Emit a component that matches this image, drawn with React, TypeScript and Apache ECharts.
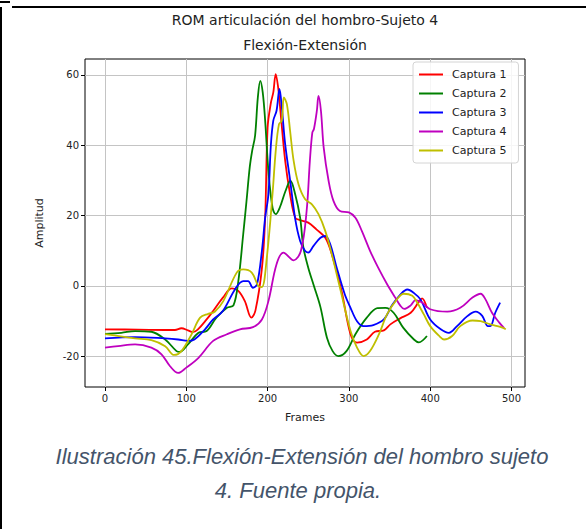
import React, { useEffect, useRef } from "react";
import * as echarts from "echarts";

const seriesNames = ["Captura 1", "Captura 2", "Captura 3", "Captura 4", "Captura 5"];
const seriesColors = ["#ff0000", "#008000", "#0000ff", "#bf00bf", "#bfbf00"];

const captura1: number[][] = [
  [0, -12.3], [40, -12.4], [86, -12.5], [94, -12], [102, -12.6], [108, -13.1], [114, -12.4],
  [125, -9.5], [133, -7.1], [145, -3.3], [156, -0.7], [164, -1.4], [172, -4.3], [180, -9],
  [185, -7], [193, 5], [197, 19.4], [200, 45], [204, 52], [207, 55], [210, 60.2], [213, 56.4],
  [215, 51.7], [221.6, 35.6], [227.7, 26], [234, 19.4], [240, 18.7], [250, 18], [260, 16.1],
  [271, 13.7], [279, 9], [291, -1.4], [302, -13.7], [310, -16.1], [322, -15.2], [332, -13],
  [343, -12.6], [351, -10.9], [363, -9.2], [376, -7.6], [386, -4.5], [390, -3.5], [396, -6.2],
];

const captura2: number[][] = [
  [0, -13.6], [20, -13.3], [37, -12.8], [57, -13], [74, -15.2], [88, -18.5], [92, -18.7],
  [102, -16.6], [115, -13.3], [125, -12.8], [137, -9], [150, -6.2], [158, -5.5], [164, 1.4],
  [170, 14.7], [174, 24], [178, 33.7], [181, 38.4], [184.6, 42.7], [188, 53.6], [191, 58.3],
  [194, 55], [197, 47], [201, 32.7], [206, 22.3], [210, 20.4], [215, 22.3], [222, 27],
  [228, 29.9], [234, 26], [240, 19.4], [244, 11], [250, 5.2], [257, 0], [265, -6],
  [273, -14.7], [280, -18.5], [287, -19.9], [297, -18.5], [308, -13.7], [322, -9],
  [335, -6.3], [345, -6.2], [355, -7.6], [367, -11.9], [380, -15.2], [386, -16], [396, -14.2],
];

const captura3: number[][] = [
  [0, -14.9], [37, -14.5], [74, -14.9], [90, -15.2], [102, -15.6], [110, -15.2], [123, -12.3],
  [133, -9.5], [145, -7.1], [160, -0.9], [170, 1.4], [176, 1.4], [182, -0.5], [187, 0.5],
  [193, 10], [197, 19.4], [201, 26], [204, 40], [207, 47], [211, 49.8], [214.6, 56],
  [217.5, 50.7], [221.6, 40.3], [227.7, 30], [234, 19], [240, 12.8], [246, 10], [250, 9.5],
  [256.5, 11.4], [265, 13.7], [271, 14.2], [277, 11.9], [285, 5.2], [295, -2.4], [302, -6.2],
  [310, -10], [318, -11.4], [330, -11.1], [343, -9.5], [353, -5.5], [363, -2.5], [372, -1],
  [380, -2], [388, -3.8], [400, -9.5], [413, -12.3], [423, -13.3], [433, -11.4], [446, -8.5],
  [456, -7.3], [464, -8.5], [471, -11.4], [474, -11.4], [480, -7.6], [486, -4.7],
];

const captura4: number[][] = [
  [0, -17.5], [16, -17.1], [37, -16.6], [57, -17.5], [69.5, -19.4], [80, -22.8], [90, -24.7],
  [100, -23.2], [115, -20.4], [133, -15.6], [150, -13.7], [166, -12.3], [182, -11.7],
  [193, -9.5], [201, -4.3], [211, 6.2], [219.5, 9.5], [232, 7.3], [241, 10], [248, 21.3],
  [252, 35.6], [255, 43.6], [257, 44.6], [260.6, 49.8], [262.6, 54], [265.6, 49.8], [269, 39.3],
  [275, 29.9], [281, 24.2], [289, 21.3], [300, 20.9], [308, 19.4], [316, 15.6], [326, 10],
  [336, 5.2], [347, 0.5], [357, -3.3], [363, -5.5], [368, -6.5], [376, -5.5], [382, -4],
  [390, -4.7], [400, -6.6], [421, -7.3], [437, -6.2], [452, -3.3], [462, -2.2], [468, -3.8],
  [476, -7.6], [485, -10.4], [491, -12],
];

const captura5: number[][] = [
  [0, -13.7], [37, -14.9], [57, -15.4], [74, -17.1], [85, -19.6], [94, -18.5], [106.5, -13.7],
  [117, -9], [127, -7.9], [135, -7.3], [145.5, -4.3], [162, 3.8], [170, 4.7], [180.5, 3.8],
  [188.6, 0], [193, -0.3], [199, 8], [206, 26], [210, 38.4], [214, 46], [217.5, 47],
  [220, 53.6], [223.7, 51.7], [227.7, 44], [232, 35.6], [238, 28.9], [246, 24.7], [254.5, 23.2],
  [262.6, 20.4], [271, 15.6], [279, 9], [289, -0.5], [302, -12.8], [310, -17.5], [318, -19.9],
  [326, -18.5], [337, -13.7], [347, -8], [359, -3.8], [367.5, -2.2], [378, -2.8], [384, -4.7],
  [392, -8], [400, -11.4], [411, -14.2], [417, -15.2], [427, -14.2], [437, -11.4], [452, -9.8],
  [462, -10], [474, -10.9], [487, -11.7], [493, -12.3],
];

const allData = [captura1, captura2, captura3, captura4, captura5];

const xTicks = [0, 100, 200, 300, 400, 500];
const yTicks = [-20, 0, 20, 40, 60];

const titleText = "ROM articulación del hombro-Sujeto 4\nFlexión-Extensión";
const captionLine1 = "Ilustración 45.Flexión-Extensión del hombro sujeto";
const captionLine2 = "4. Fuente propia.";

export default function App() {
  const ref = useRef<HTMLDivElement>(null);

  useEffect(() => {
    if (!ref.current) return;
    const chart = echarts.init(ref.current, null, { renderer: "svg" });
    const font = "DejaVu Sans";
    chart.setOption({
      animation: false,
      backgroundColor: "#ffffff",
      title: {
        text: titleText,
        left: 300,
        top: 2,
        textAlign: "center",
        textStyle: { fontFamily: font, fontSize: 14, fontWeight: "normal", color: "#222", lineHeight: 25 },
      },
      legend: {
        orient: "vertical",
        left: 413,
        top: 62,
        padding: [6, 12, 6, 6],
        itemGap: 6,
        itemWidth: 24,
        itemHeight: 2,
        icon: "rect",
        backgroundColor: "rgba(255,255,255,0.85)",
        borderColor: "#d4d4d4",
        borderWidth: 1,
        borderRadius: 3,
        textStyle: { fontFamily: font, fontSize: 11, color: "#222", padding: [0, 0, 0, 4], lineHeight: 13 },
        data: seriesNames,
      },
      grid: {
        left: 85,
        right: 61,
        top: 59,
        bottom: 142,
        show: true,
        borderColor: "#000",
        borderWidth: 1,
        backgroundColor: "transparent",
      },
      xAxis: {
        type: "value",
        min: -24.6,
        max: 516.6,
        name: "Frames",
        nameLocation: "middle",
        nameGap: 25,
        nameTextStyle: { fontFamily: font, fontSize: 11, color: "#222" },
        axisLine: { show: false, onZero: false },
        axisTick: { show: true, length: 4, lineStyle: { color: "#000" }, customValues: xTicks },
        axisLabel: { fontFamily: font, fontSize: 10, color: "#222", margin: 6, customValues: xTicks },
        splitLine: { show: true, lineStyle: { color: "#c4c4c4", width: 1 } },
      },
      yAxis: {
        type: "value",
        min: -28.7,
        max: 64.5,
        name: "Amplitud",
        nameLocation: "middle",
        nameGap: 40,
        nameTextStyle: { fontFamily: font, fontSize: 11, color: "#222" },
        axisLine: { show: false, onZero: false },
        axisTick: { show: true, length: 4, lineStyle: { color: "#000" }, customValues: yTicks },
        axisLabel: { fontFamily: font, fontSize: 10, color: "#222", margin: 6, customValues: yTicks },
        splitLine: { show: true, lineStyle: { color: "#c4c4c4", width: 1 } },
      },
      series: seriesNames.map((name, i) => ({
        name,
        type: "line",
        data: allData[i],
        smooth: 0.35,
        showSymbol: false,
        symbol: "none",
        lineStyle: { color: seriesColors[i], width: 1.8 },
        itemStyle: { color: seriesColors[i] },
        z: 3 + i,
      })),
      graphic: [
        { type: "line", shape: { x1: 0, y1: 2, x2: 10, y2: 2 }, style: { stroke: "#000", lineWidth: 2 } },
        { type: "line", shape: { x1: 12, y1: 7, x2: 586, y2: 7 }, style: { stroke: "#000", lineWidth: 2 } },
        { type: "line", shape: { x1: 1, y1: 7, x2: 1, y2: 529 }, style: { stroke: "#000", lineWidth: 2 } },
        {
          type: "text",
          x: 302,
          y: 456,
          style: {
            text: captionLine1,
            fontFamily: "Liberation Sans",
            fontStyle: "italic",
            fontSize: 22,
            fill: "#44546a",
            align: "center",
            verticalAlign: "middle",
          },
        },
        {
          type: "text",
          x: 298,
          y: 490,
          style: {
            text: captionLine2,
            fontFamily: "Liberation Sans",
            fontStyle: "italic",
            fontSize: 22,
            fill: "#44546a",
            align: "center",
            verticalAlign: "middle",
          },
        },
      ],
    });
    return () => chart.dispose();
  }, []);

  return <div ref={ref} style={{ width: 586, height: 529, position: "absolute", left: 0, top: 0 }} />;
}
